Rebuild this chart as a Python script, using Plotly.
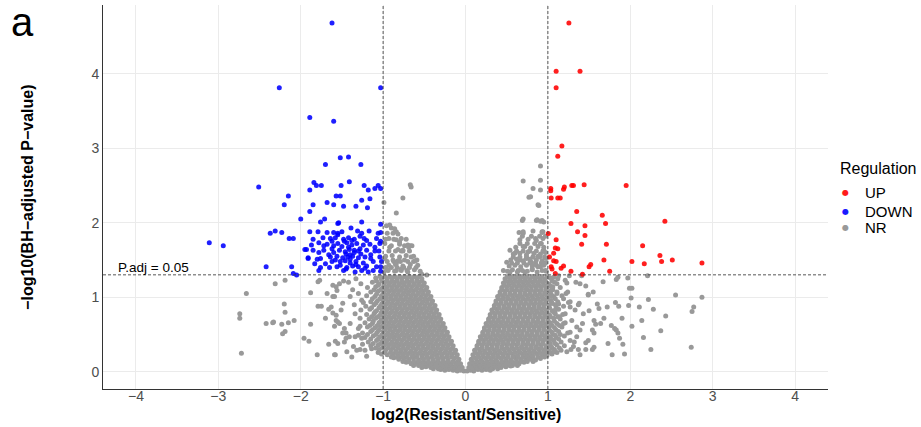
import plotly.graph_objects as go

# ---------------- data (log2 fold change, -log10 adjusted p) ----------------
up_pts = [
    (1.255, 4.68), (1.10, 4.03), (1.39, 4.03), (1.10, 3.81), (1.17, 3.03), (1.12, 2.89),
    (1.035, 2.46), (1.035, 2.43), (1.19, 2.45), (1.20, 2.48), (1.29, 2.50), (1.31, 2.50),
    (1.44, 2.51), (1.95, 2.50), (1.04, 2.33), (1.12, 2.33), (1.15, 2.33), (1.35, 2.15),
    (1.66, 2.10), (1.28, 1.99), (1.45, 1.96), (1.70, 1.99), (2.42, 2.02), (1.005, 1.855),
    (1.36, 1.88), (1.45, 1.83), (1.10, 1.77), (1.09, 1.66), (1.12, 1.65), (1.41, 1.71),
    (1.71, 1.71), (2.15, 1.69), (1.07, 1.59), (1.02, 1.54), (1.07, 1.49), (1.10, 1.48),
    (1.04, 1.41), (1.05, 1.38), (1.16, 1.39), (1.19, 1.42), (1.28, 1.35), (1.42, 1.31),
    (1.09, 1.32), (1.50, 1.41), (1.52, 1.44), (1.68, 1.50), (1.75, 1.35), (2.02, 1.48),
    (2.17, 1.45), (2.36, 1.56), (2.38, 1.48), (2.51, 1.50), (2.87, 1.46),
]

down_pts = [
    (-1.62, 4.68), (-2.26, 3.81), (-1.03, 3.81), (-1.89, 3.41), (-1.60, 3.36), (-1.52, 2.87),
    (-1.42, 2.88), (-1.70, 2.78), (-1.27, 2.78), (-2.51, 2.48), (-1.84, 2.54), (-1.81, 2.50),
    (-1.75, 2.50), (-1.89, 2.44), (-1.51, 2.50), (-1.41, 2.55), (-1.23, 2.50), (-1.18, 2.44),
    (-1.10, 2.46), (-1.06, 2.50), (-1.03, 2.46), (-2.15, 2.36), (-1.57, 2.36), (-1.52, 2.36),
    (-1.26, 2.30), (-1.16, 2.32), (-2.20, 2.24), (-1.89, 2.15), (-1.85, 2.24), (-1.68, 2.27),
    (-1.60, 2.24), (-1.48, 2.22), (-1.33, 2.22), (-1.19, 2.20), (-2.00, 2.05), (-1.76, 2.01),
    (-1.71, 2.05), (-1.55, 1.99), (-1.54, 2.00), (-1.26, 2.01), (-1.03, 1.98), (-2.37, 1.86),
    (-2.31, 1.89), (-2.23, 1.87), (-2.14, 1.79), (-2.09, 1.79), (-3.11, 1.73), (-2.94, 1.69),
    (-2.42, 1.41), (-2.11, 1.41), (-2.09, 1.32), (-2.05, 1.30), (-1.95, 1.64), (-1.91, 1.53),
    (-1.89, 1.88), (-1.79, 1.88), (-1.68, 1.87), (-1.60, 1.87), (-1.55, 1.86), (-1.50, 1.88),
    (-1.39, 1.93), (-1.31, 1.89), (-1.26, 1.86), (-1.17, 1.89), (-1.06, 1.86), (-1.03, 1.87),
    (-1.85, 1.78), (-1.73, 1.80), (-1.64, 1.79), (-1.58, 1.80), (-1.48, 1.78), (-1.42, 1.80),
    (-1.35, 1.78), (-1.23, 1.79), (-1.08, 1.79), (-1.87, 1.70), (-1.78, 1.73), (-1.68, 1.71),
    (-1.60, 1.69), (-1.55, 1.72), (-1.44, 1.73), (-1.38, 1.70), (-1.32, 1.72), (-1.24, 1.70),
    (-1.16, 1.71), (-1.04, 1.72), (-1.93, 1.64), (-1.85, 1.63), (-1.72, 1.63), (-1.62, 1.65),
    (-1.53, 1.63), (-1.46, 1.61), (-1.41, 1.64), (-1.35, 1.63), (-1.28, 1.65), (-1.20, 1.63),
    (-1.10, 1.62), (-1.91, 1.52), (-1.80, 1.51), (-1.76, 1.52), (-1.64, 1.54), (-1.56, 1.55),
    (-1.49, 1.53), (-1.43, 1.54), (-1.37, 1.55), (-1.30, 1.53), (-1.22, 1.54), (-1.15, 1.52),
    (-1.04, 1.54), (-1.83, 1.45), (-1.62, 1.48), (-1.52, 1.48), (-1.46, 1.49), (-1.40, 1.46),
    (-1.33, 1.48), (-1.24, 1.46), (-1.12, 1.48), (-1.02, 1.48), (-1.76, 1.40), (-1.56, 1.41),
    (-1.44, 1.40), (-1.37, 1.42), (-1.30, 1.41), (-1.20, 1.42), (-1.08, 1.41), (-1.03, 1.41),
    (-1.78, 1.36), (-1.48, 1.36), (-1.34, 1.34), (-1.26, 1.36), (-1.18, 1.34),
    (-1.45, 1.58), (-1.40, 1.57), (-1.50, 1.68), (-1.42, 1.67), (-1.35, 1.60), (-1.30, 1.62),
    (-1.47, 1.75), (-1.38, 1.76), (-1.52, 1.43), (-1.40, 1.51), (-1.33, 1.44), (-1.27, 1.58),
    (-1.60, 1.60), (-1.66, 1.57), (-1.70, 1.45), (-1.58, 1.50), (-1.45, 1.38), (-1.22, 1.39),
    (-1.15, 1.57), (-1.10, 1.67), (-1.05, 1.62), (-1.03, 1.75), (-1.03, 1.35), (-1.12, 1.36),
    (-1.65, 1.40), (-1.72, 1.69), (-1.78, 1.60), (-1.20, 1.76), (-1.28, 1.82), (-1.55, 1.84),
    (-1.62, 1.75),
]

# NR, dense left arm of the volcano: (y, [x values]) rows
nr_left_rows = [
    (0.01, [-0.02, -0.10]), (0.02, [-0.06, -0.15, -0.25]), (0.03, [-0.20, -0.30]),
    (0.04, [-0.12, -0.17, -0.22, -0.27, -0.33, -0.39]),
    (0.06, [-0.04, -0.14, -0.19, -0.30, -0.42, -0.53]), (0.07, [-0.09, -0.24, -0.36, -0.48]),
    (0.085, [-0.07, -0.12, -0.17, -0.22, -0.27, -0.33, -0.39, -0.45, -0.51, -0.57, -0.63]),
    (0.11, [-0.06, -0.18, -0.30, -0.42, -0.54, -0.66]), (0.12, [-0.12, -0.24, -0.36, -0.48, -0.60]),
    (0.13, [-0.72]),
    (0.14, [-0.09, -0.15, -0.21, -0.27, -0.33, -0.39, -0.45, -0.51, -0.57, -0.63, -0.69, -0.76]),
    (0.17, [-0.08, -0.33, -0.51, -0.69, -0.81]), (0.18, [-0.14, -0.27, -0.45, -0.63, -0.75]),
    (0.16, [-0.21, -0.39, -0.57]), (0.19, [-0.87]),
    (0.20, [-0.11, -0.17, -0.23, -0.29, -0.35, -0.41, -0.47, -0.53, -0.59, -0.65, -0.71, -0.77, -0.83, -0.90]),
    (0.23, [-0.10, -0.34, -0.52, -0.76, -0.95]), (0.24, [-0.16, -0.28, -0.46, -0.58, -0.70, -0.88, -1.02]),
    (0.22, [-0.22, -0.40, -0.64, -0.82]),
    (0.26, [-0.13, -0.19, -0.25, -0.31, -0.37, -0.43, -0.49, -0.55, -0.61, -0.67, -0.73, -0.79, -0.85, -0.91, -0.98, -1.06]),
    (0.29, [-0.12, -0.36, -0.54, -0.78, -0.97]), (0.30, [-0.18, -0.30, -0.48, -0.60, -0.72, -0.90, -1.05]),
    (0.28, [-0.24, -0.42, -0.66, -0.84]), (0.31, [-1.14]),
    (0.32, [-0.16, -0.22, -0.28, -0.34, -0.40, -0.46, -0.52, -0.58, -0.64, -0.70, -0.76, -0.82, -0.88, -0.94, -1.01, -1.09]),
    (0.35, [-0.15, -0.39, -0.57, -0.81, -0.99, -1.15]), (0.36, [-0.21, -0.33, -0.51, -0.63, -0.75, -0.93, -1.06]),
    (0.34, [-0.27, -0.45, -0.69, -0.87]), (0.37, [-1.25]),
    (0.38, [-0.18, -0.24, -0.30, -0.36, -0.42, -0.48, -0.54, -0.60, -0.66, -0.72, -0.78, -0.84, -0.90, -0.96, -1.03, -1.12]),
    (0.41, [-0.17, -0.41, -0.59, -0.83, -1.01]), (0.42, [-0.23, -0.35, -0.53, -0.65, -0.77, -0.95, -1.08]),
    (0.40, [-0.29, -0.47, -0.71, -0.89, -1.18]),
    (0.44, [-0.21, -0.27, -0.33, -0.39, -0.45, -0.51, -0.57, -0.63, -0.69, -0.75, -0.81, -0.87, -0.93, -0.99, -1.06, -1.15]),
    (0.47, [-0.20, -0.44, -0.62, -0.86, -1.04]), (0.48, [-0.26, -0.38, -0.56, -0.68, -0.80, -0.98, -1.12]),
    (0.46, [-0.32, -0.50, -0.74, -0.92, -1.22]), (0.49, [-1.30]),
    (0.50, [-0.23, -0.29, -0.35, -0.41, -0.47, -0.53, -0.59, -0.65, -0.71, -0.77, -0.83, -0.89, -0.95, -1.01, -1.09, -1.19]),
    (0.53, [-0.22, -0.46, -0.64, -0.88, -1.07]), (0.54, [-0.28, -0.40, -0.58, -0.70, -0.82, -1.00, -1.15]),
    (0.52, [-0.34, -0.52, -0.76, -0.94, -1.25]),
    (0.56, [-0.26, -0.32, -0.38, -0.44, -0.50, -0.56, -0.62, -0.68, -0.74, -0.80, -0.86, -0.92, -0.98, -1.05, -1.13]),
    (0.59, [-0.25, -0.49, -0.67, -0.91, -1.10]), (0.60, [-0.31, -0.43, -0.61, -0.73, -0.85, -1.03, -1.19]),
    (0.58, [-0.37, -0.55, -0.79, -0.97, -1.30]),
    (0.62, [-0.28, -0.34, -0.40, -0.46, -0.52, -0.58, -0.64, -0.70, -0.76, -0.82, -0.88, -0.94, -1.00, -1.07, -1.16]),
    (0.65, [-0.27, -0.51, -0.69, -0.93, -1.13]), (0.66, [-0.33, -0.45, -0.63, -0.75, -0.87, -1.05, -1.22]),
    (0.64, [-0.39, -0.57, -0.81, -0.99]),
    (0.68, [-0.31, -0.37, -0.43, -0.49, -0.55, -0.61, -0.67, -0.73, -0.79, -0.85, -0.91, -0.97, -1.03, -1.12]),
    (0.71, [-0.30, -0.54, -0.72, -0.96, -1.17]), (0.72, [-0.36, -0.48, -0.66, -0.78, -0.90, -1.09, -1.28]),
    (0.70, [-0.42, -0.60, -0.84, -1.02]),
    (0.74, [-0.33, -0.39, -0.45, -0.51, -0.57, -0.63, -0.69, -0.75, -0.81, -0.87, -0.93, -0.99, -1.06, -1.14]),
    (0.77, [-0.32, -0.56, -0.74, -0.98, -1.20]), (0.78, [-0.38, -0.50, -0.68, -0.80, -0.92, -1.11]),
    (0.76, [-0.44, -0.62, -0.86, -1.04]),
    (0.80, [-0.36, -0.42, -0.48, -0.54, -0.60, -0.66, -0.72, -0.78, -0.84, -0.90, -0.96, -1.02, -1.10]),
    (0.83, [-0.35, -0.59, -0.77, -1.01, -1.27]), (0.84, [-0.41, -0.53, -0.71, -0.83, -0.95, -1.16]),
    (0.82, [-0.47, -0.65, -0.89, -1.08]),
    (0.86, [-0.38, -0.44, -0.50, -0.56, -0.62, -0.68, -0.74, -0.80, -0.86, -0.92, -0.98, -1.05, -1.14]),
    (0.89, [-0.37, -0.61, -0.79, -1.03]), (0.90, [-0.43, -0.55, -0.73, -0.85, -0.97, -1.11]),
    (0.88, [-0.49, -0.67, -0.91, -1.21]),
    (0.92, [-0.41, -0.47, -0.53, -0.59, -0.65, -0.71, -0.77, -0.83, -0.89, -0.95, -1.01, -1.09]),
    (0.95, [-0.40, -0.64, -0.82, -1.07]), (0.96, [-0.46, -0.58, -0.76, -0.88, -1.00, -1.26]),
    (0.94, [-0.52, -0.70, -0.94, -1.15]),
    (0.98, [-0.43, -0.49, -0.55, -0.61, -0.67, -0.73, -0.79, -0.85, -0.91, -0.97, -1.04, -1.13]),
    (1.01, [-0.42, -0.66, -0.84, -1.10]), (1.02, [-0.48, -0.60, -0.78, -0.90, -1.02, -1.20]),
    (1.00, [-0.54, -0.72, -0.96]),
    (1.04, [-0.46, -0.52, -0.58, -0.64, -0.70, -0.76, -0.82, -0.88, -0.94, -1.00, -1.08]),
    (1.07, [-0.45, -0.69, -0.87, -1.15]), (1.08, [-0.51, -0.63, -0.81, -0.93, -1.06]),
    (1.06, [-0.57, -0.75, -0.99]),
    (1.10, [-0.48, -0.54, -0.60, -0.66, -0.72, -0.78, -0.84, -0.90, -0.96, -1.03, -1.11]),
    (1.13, [-0.47, -0.71, -0.89, -1.19]), (1.14, [-0.53, -0.65, -0.83, -0.95, -1.09]),
    (1.12, [-0.59, -0.77, -1.01]),
    (1.16, [-0.51, -0.57, -0.63, -0.69, -0.75, -0.81, -0.87, -0.93, -0.99, -1.06]),
    (1.19, [-0.50, -0.74, -0.92]), (1.20, [-0.56, -0.68, -0.86, -0.98, -1.13]),
    (1.18, [-0.62, -0.80, -1.05]),
    (1.22, [-0.53, -0.59, -0.65, -0.71, -0.77, -0.83, -0.89, -0.95, -1.01, -1.08]),
    (1.25, [-0.53, -0.77, -0.95]), (1.26, [-0.59, -0.71, -0.89, -1.09]), (1.24, [-0.65, -0.83, -1.02]),
    (1.28, [-0.56, -0.62, -0.68, -0.74, -0.80, -0.86, -0.92, -0.98, -1.04]),
    (1.40, [-0.60, -0.68, -0.75, -0.83, -0.90, -0.97]),
    (1.48, [-0.63, -0.70, -0.79, -0.87, -0.95]),
    (1.62, [-0.68, -0.76, -0.85, -0.93]),
    (1.78, [-0.72, -0.87, -0.97]),
]

# NR, dense right arm of the volcano: (y, [x values]) rows
nr_right_rows = [
    (0.01, [0.02, 0.10]), (0.02, [0.06, 0.20, 0.30]), (0.03, [0.15, 0.25]),
    (0.04, [0.12, 0.17, 0.22, 0.27, 0.33, 0.39]),
    (0.06, [0.04, 0.19, 0.31, 0.43]), (0.05, [0.09]), (0.07, [0.14, 0.25, 0.37, 0.49]), (0.08, [0.55]),
    (0.085, [0.07, 0.12, 0.17, 0.22, 0.27, 0.33, 0.39, 0.45, 0.51, 0.57, 0.63]),
    (0.11, [0.05, 0.29, 0.41, 0.53, 0.65]), (0.12, [0.11, 0.23, 0.35, 0.47, 0.59]), (0.10, [0.17]),
    (0.13, [0.71]),
    (0.14, [0.08, 0.14, 0.20, 0.26, 0.32, 0.38, 0.44, 0.50, 0.56, 0.62, 0.68, 0.75, 0.82]),
    (0.17, [0.07, 0.31, 0.49, 0.67, 0.79]), (0.18, [0.13, 0.25, 0.43, 0.61, 0.73, 0.91]),
    (0.16, [0.19, 0.37, 0.55, 0.85]),
    (0.20, [0.10, 0.16, 0.22, 0.28, 0.34, 0.40, 0.46, 0.52, 0.58, 0.64, 0.70, 0.76, 0.82, 0.88, 0.96]),
    (0.23, [0.09, 0.33, 0.51, 0.75, 0.93]), (0.24, [0.15, 0.27, 0.45, 0.57, 0.69, 0.87, 1.05]),
    (0.22, [0.21, 0.39, 0.63, 0.81, 0.99]),
    (0.26, [0.12, 0.18, 0.24, 0.30, 0.36, 0.42, 0.48, 0.54, 0.60, 0.66, 0.72, 0.78, 0.84, 0.90, 0.96, 1.03, 1.11]),
    (0.29, [0.11, 0.35, 0.53, 0.77, 0.95, 1.16]), (0.30, [0.17, 0.29, 0.47, 0.59, 0.71, 0.89, 1.08]),
    (0.28, [0.23, 0.41, 0.65, 0.83, 1.01]),
    (0.32, [0.14, 0.20, 0.26, 0.32, 0.38, 0.44, 0.50, 0.56, 0.62, 0.68, 0.74, 0.80, 0.86, 0.92, 0.98, 1.05, 1.14]),
    (0.35, [0.14, 0.38, 0.56, 0.80, 0.98, 1.20]), (0.36, [0.20, 0.32, 0.50, 0.62, 0.74, 0.92, 1.11]),
    (0.34, [0.26, 0.44, 0.68, 0.86, 1.04]),
    (0.38, [0.16, 0.22, 0.28, 0.34, 0.40, 0.46, 0.52, 0.58, 0.64, 0.70, 0.76, 0.82, 0.88, 0.94, 1.01, 1.09]),
    (0.41, [0.16, 0.40, 0.58, 0.82, 1.00]), (0.42, [0.22, 0.34, 0.52, 0.64, 0.76, 0.94, 1.07, 1.27]),
    (0.40, [0.28, 0.46, 0.70, 0.88, 1.16]),
    (0.44, [0.19, 0.25, 0.31, 0.37, 0.43, 0.49, 0.55, 0.61, 0.67, 0.73, 0.79, 0.85, 0.91, 0.97, 1.04, 1.13]),
    (0.47, [0.18, 0.42, 0.60, 0.84, 1.02]), (0.48, [0.24, 0.36, 0.54, 0.66, 0.78, 0.96, 1.20]),
    (0.46, [0.30, 0.48, 0.72, 0.90, 1.10]),
    (0.50, [0.21, 0.27, 0.33, 0.39, 0.45, 0.51, 0.57, 0.63, 0.69, 0.75, 0.81, 0.87, 0.93, 0.99, 1.06, 1.15]),
    (0.53, [0.21, 0.45, 0.63, 0.87, 1.05]), (0.54, [0.27, 0.39, 0.57, 0.69, 0.81, 0.99, 1.13]),
    (0.52, [0.33, 0.51, 0.75, 0.93, 1.24]),
    (0.56, [0.23, 0.29, 0.35, 0.41, 0.47, 0.53, 0.59, 0.65, 0.71, 0.77, 0.83, 0.89, 0.95, 1.02, 1.10]),
    (0.59, [0.23, 0.47, 0.65, 0.89, 1.08]), (0.60, [0.29, 0.41, 0.59, 0.71, 0.83, 1.01, 1.17]),
    (0.58, [0.35, 0.53, 0.77, 0.95]),
    (0.62, [0.26, 0.32, 0.38, 0.44, 0.50, 0.56, 0.62, 0.68, 0.74, 0.80, 0.86, 0.92, 0.98, 1.05, 1.14]),
    (0.65, [0.25, 0.49, 0.67, 0.91, 1.11]), (0.66, [0.31, 0.43, 0.61, 0.73, 0.85, 1.03, 1.21]),
    (0.64, [0.37, 0.55, 0.79, 0.97]),
    (0.68, [0.28, 0.34, 0.40, 0.46, 0.52, 0.58, 0.64, 0.70, 0.76, 0.82, 0.88, 0.94, 1.00, 1.08]),
    (0.71, [0.28, 0.52, 0.70, 0.94, 1.15]), (0.72, [0.34, 0.46, 0.64, 0.76, 0.88, 1.07]),
    (0.70, [0.40, 0.58, 0.82, 1.00]),
    (0.74, [0.30, 0.36, 0.42, 0.48, 0.54, 0.60, 0.66, 0.72, 0.78, 0.84, 0.90, 0.96, 1.03, 1.12]),
    (0.77, [0.30, 0.54, 0.72, 0.96, 1.18]), (0.78, [0.36, 0.48, 0.66, 0.78, 0.90, 1.09]),
    (0.76, [0.42, 0.60, 0.84, 1.02]),
    (0.80, [0.33, 0.39, 0.45, 0.51, 0.57, 0.63, 0.69, 0.75, 0.81, 0.87, 0.93, 0.99, 1.07]),
    (0.83, [0.32, 0.56, 0.74, 0.98]), (0.84, [0.38, 0.50, 0.68, 0.80, 0.92, 1.13]),
    (0.82, [0.44, 0.62, 0.86, 1.05]),
    (0.86, [0.35, 0.41, 0.47, 0.53, 0.59, 0.65, 0.71, 0.77, 0.83, 0.89, 0.95, 1.02, 1.10]),
    (0.89, [0.35, 0.59, 0.77, 1.01]), (0.90, [0.41, 0.53, 0.71, 0.83, 0.95, 1.09]),
    (0.88, [0.47, 0.65, 0.89, 1.19]),
    (0.92, [0.37, 0.43, 0.49, 0.55, 0.61, 0.67, 0.73, 0.79, 0.85, 0.91, 0.97, 1.05]),
    (0.95, [0.37, 0.61, 0.79, 1.04]), (0.96, [0.43, 0.55, 0.73, 0.85, 0.97]),
    (0.94, [0.49, 0.67, 0.91, 1.12]),
    (0.98, [0.40, 0.46, 0.52, 0.58, 0.64, 0.70, 0.76, 0.82, 0.88, 0.94, 1.00, 1.09]),
    (1.01, [0.39, 0.63, 0.81, 1.07]), (1.02, [0.45, 0.57, 0.75, 0.87, 0.99, 1.17]),
    (1.00, [0.51, 0.69, 0.93]),
    (1.04, [0.42, 0.48, 0.54, 0.60, 0.66, 0.72, 0.78, 0.84, 0.90, 0.96, 1.04]),
    (1.07, [0.42, 0.66, 0.84, 1.11]), (1.08, [0.48, 0.60, 0.78, 0.90, 1.03]),
    (1.06, [0.54, 0.72, 0.96]),
    (1.10, [0.44, 0.50, 0.56, 0.62, 0.68, 0.74, 0.80, 0.86, 0.92, 0.98, 1.06]),
    (1.13, [0.44, 0.68, 0.86, 1.15]), (1.14, [0.50, 0.62, 0.80, 0.92, 1.06]),
    (1.12, [0.56, 0.74, 0.98]),
    (1.16, [0.47, 0.53, 0.59, 0.65, 0.71, 0.77, 0.83, 0.89, 0.95, 1.02]),
    (1.19, [0.46, 0.70, 0.88]), (1.20, [0.52, 0.64, 0.82, 0.94, 1.08]), (1.18, [0.58, 0.76, 1.00]),
    (1.22, [0.49, 0.55, 0.61, 0.67, 0.73, 0.79, 0.85, 0.91, 0.97, 1.05]),
    (1.25, [0.48, 0.72, 0.90, 1.12]), (1.26, [0.54, 0.66, 0.84, 1.03]), (1.24, [0.60, 0.78, 0.96]),
    (1.28, [0.51, 0.57, 0.63, 0.69, 0.75, 0.81, 0.87, 0.93, 0.99]),
    (1.46, [0.56, 0.63, 0.71, 0.78, 0.85, 0.92, 0.97]),
    (1.54, [0.58, 0.66, 0.74, 0.82, 0.90, 0.96]),
    (1.62, [0.62, 0.70, 0.78, 0.86, 0.94]),
    (1.72, [0.66, 0.75, 0.84, 0.92]),
    (1.82, [0.69, 0.80, 0.90, 0.97]),
]

# NR: significant p but small fold change (between the vertical cut-offs)
nr_above = [
    (-0.67, 2.51), (-0.66, 2.48), (-0.76, 2.33), (-0.84, 2.13), (-0.99, 2.27), (-0.96, 1.96),
    (-0.90, 1.93), (-0.95, 1.86), (-0.88, 1.86), (-0.84, 1.88), (-0.93, 1.79), (-0.84, 1.77),
    (-0.80, 1.74), (-0.74, 1.69), (-0.67, 1.69), (-0.65, 1.69), (-0.92, 1.67), (-0.82, 1.64),
    (-0.78, 1.62), (-0.74, 1.50), (-0.66, 1.54), (-0.59, 1.50), (-0.98, 1.52), (-0.88, 1.50),
    (-0.84, 1.45), (-0.94, 1.36), (-0.84, 1.36), (-0.78, 1.38), (-0.71, 1.36), (-0.53, 1.31),
    (-0.47, 1.30), (-0.92, 1.97), (-0.86, 1.92), (-0.82, 1.85), (-0.78, 1.79), (-0.69, 1.67),
    (-0.61, 1.49), (-0.76, 1.63), (-0.82, 1.49), (-0.55, 1.35), (-0.62, 1.37), (-0.70, 1.34),
    (-0.78, 1.36), (-0.86, 1.35), (-0.94, 1.37), (-0.99, 1.34), (-0.58, 1.43), (-0.67, 1.44),
    (-0.76, 1.42), (-0.85, 1.44), (-0.93, 1.43), (-0.63, 1.55), (-0.72, 1.56), (-0.80, 1.54),
    (-0.89, 1.56), (-0.97, 1.55), (-0.70, 1.70), (-0.80, 1.71), (-0.90, 1.69), (-0.98, 1.72),
    (0.70, 2.56), (0.91, 2.57), (0.91, 2.44), (0.82, 2.46), (0.79, 2.35), (0.77, 2.34),
    (0.88, 2.24), (0.69, 2.03), (0.70, 2.05), (0.86, 2.03), (0.91, 2.02), (0.95, 2.01),
    (0.65, 1.87), (0.70, 1.86), (0.93, 1.88), (0.85, 1.79), (0.91, 1.72), (0.95, 1.63),
    (0.54, 1.63), (0.60, 1.59), (0.50, 1.47), (0.66, 1.50), (0.74, 1.52), (0.82, 1.54),
    (0.88, 1.55), (0.46, 1.36), (0.54, 1.34), (0.64, 1.36), (0.72, 1.34), (0.81, 1.38),
    (0.91, 1.41), (0.97, 1.36), (0.72, 1.68), (0.76, 1.61), (0.80, 1.47), (0.86, 1.43),
    (0.91, 2.76), (0.89, 2.23), (0.87, 2.04), (0.93, 2.03), (0.94, 1.88),
    (0.51, 1.35), (0.57, 1.37), (0.63, 1.34), (0.69, 1.36), (0.75, 1.35), (0.81, 1.37),
    (0.87, 1.34), (0.93, 1.36), (0.98, 1.35), (0.53, 1.42), (0.60, 1.43), (0.67, 1.41),
    (0.74, 1.43), (0.81, 1.42), (0.88, 1.41), (0.95, 1.43), (0.55, 1.50), (0.62, 1.51),
    (0.70, 1.49), (0.78, 1.51), (0.86, 1.50), (0.93, 1.49), (0.98, 1.52), (0.58, 1.58),
    (0.66, 1.59), (0.74, 1.57), (0.83, 1.59), (0.91, 1.58), (0.97, 1.60), (0.61, 1.67),
    (0.70, 1.68), (0.79, 1.66), (0.88, 1.68), (0.95, 1.67), (0.66, 1.77), (0.76, 1.78),
    (0.86, 1.76), (0.94, 1.79), (0.70, 1.88), (0.82, 1.89), (0.93, 1.87),
]

# NR: scattered genes with larger fold change but non-significant p
nr_outer = [
    (-2.31, 1.18), (-2.19, 1.23), (-2.66, 1.05), (-2.74, 0.78), (-2.74, 0.72), (-2.42, 0.65),
    (-2.34, 0.66), (-2.33, 0.67), (-2.23, 0.64), (-2.15, 0.66), (-2.08, 0.69), (-2.20, 0.91),
    (-2.19, 0.80), (-2.22, 0.51), (-2.19, 0.54), (-2.72, 0.25), (-1.96, 0.45), (-1.90, 0.41),
    (-1.88, 1.06), (-1.88, 0.64), (-1.79, 1.21), (-1.77, 1.23), (-1.79, 0.88), (-1.75, 0.88),
    (-1.80, 0.23), (-1.70, 0.72), (-1.68, 1.05), (-1.61, 1.01), (-1.57, 1.14), (-1.56, 1.09),
    (-1.53, 1.18), (-1.48, 1.22), (-1.66, 0.37), (-1.58, 0.41), (-1.58, 0.23), (-1.66, 0.84),
    (-1.61, 0.79), (-1.57, 0.69), (-1.53, 0.65), (-1.45, 0.52), (-1.41, 0.47), (-1.47, 0.58),
    (-1.36, 0.34), (-1.28, 0.30), (-1.20, 0.21), (-1.47, 0.40), (-1.34, 0.47),
    (-1.61, 1.16), (-1.59, 1.01), (-1.63, 0.87), (-1.57, 0.76), (-1.51, 0.83), (-1.55, 0.67),
    (-1.59, 0.61), (-1.49, 0.52), (-1.45, 0.45), (-1.55, 0.38), (-1.59, 0.23), (-1.44, 0.27),
    (-1.38, 0.20), (-1.32, 0.29), (-1.49, 0.92), (-1.40, 1.01), (-1.34, 0.78), (-1.28, 0.61),
    (-1.26, 0.45), (-1.22, 0.29), (-1.37, 1.10), (-1.42, 1.20), (-1.35, 0.90), (-1.40, 0.65),
    (-1.30, 1.05), (-1.27, 1.18), (-1.33, 1.25), (-1.24, 0.93),
    (1.13, 1.29), (1.26, 1.29), (1.41, 1.29), (1.34, 1.20), (1.21, 1.23), (1.23, 1.19),
    (1.46, 1.15), (1.55, 1.07), (1.49, 1.03), (1.67, 1.21), (1.83, 1.24), (1.85, 1.27),
    (1.97, 1.26), (1.99, 1.12), (2.02, 1.12), (2.01, 0.99), (2.21, 1.29), (2.22, 0.97),
    (2.55, 1.03), (2.87, 1.00), (1.86, 0.88), (1.98, 0.89), (2.11, 0.87), (2.28, 0.84),
    (2.43, 0.75), (2.75, 0.81), (2.77, 0.87), (1.62, 0.85), (1.50, 0.82), (1.37, 0.90),
    (1.38, 0.92), (1.25, 0.93), (1.19, 0.98), (1.22, 1.05), (1.24, 1.07), (1.90, 0.72),
    (2.02, 0.61), (2.14, 0.69), (2.37, 0.55), (2.16, 0.46), (2.25, 0.30), (2.74, 0.33),
    (1.77, 0.62), (1.81, 0.58), (1.85, 0.52), (1.83, 0.56), (1.87, 0.45), (1.73, 0.38),
    (1.91, 0.37), (1.78, 0.23), (1.93, 0.24), (1.64, 0.65), (1.58, 0.64), (1.54, 0.56),
    (1.56, 0.52), (1.49, 0.42), (1.46, 0.39), (1.54, 0.30), (1.56, 0.33), (1.46, 0.30),
    (1.39, 0.23), (1.37, 0.30), (1.31, 0.34), (1.23, 0.27), (1.28, 0.30), (1.32, 0.40),
    (1.35, 0.47), (1.39, 0.56), (1.42, 0.65), (1.29, 0.69), (1.27, 0.53), (1.35, 0.60),
    (1.07, 0.27), (0.99, 0.30), (0.95, 0.25), (1.03, 0.38), (1.09, 0.49), (1.19, 0.65),
    (1.14, 0.74), (1.09, 0.83), (1.05, 0.92), (1.13, 0.91), (1.04, 1.01), (1.11, 1.05),
    (1.04, 1.14), (1.11, 1.18), (1.07, 1.27), (1.27, 0.87), (1.33, 0.83), (1.43, 0.78),
    (1.21, 0.78), (1.27, 0.94), (1.39, 1.18), (1.49, 1.04), (1.60, 0.91), (1.56, 0.69),
    (1.68, 0.72), (1.72, 0.87), (1.82, 0.93),
]

legend_labels = ["UP", "DOWN", "NR"]
legend_colors = ["#ff1a1a", "#1a1aff", "#999999"]

x_ticks = [-4, -3, -2, -1, 0, 1, 2, 3, 4]
x_tick_text = ["\u22124", "\u22123", "\u22122", "\u22121", "0", "1", "2", "3", "4"]
y_ticks = [0, 1, 2, 3, 4]
y_tick_text = ["0", "1", "2", "3", "4"]
fc_cut = 1.0
padj_cut = 1.30103  # -log10(0.05)

# -------- assemble the NR table from the row lists --------
nr_pts = [(x, y) for y, xs in nr_left_rows for x in xs]
nr_pts += [(x, y) for y, xs in nr_right_rows for x in xs]
nr_pts += nr_above + nr_outer

FONT = "Liberation Sans, Arial, Helvetica, sans-serif"

fig = go.Figure()
series = [
    ("NR", nr_pts, "#999999"),
    ("DOWN", down_pts, "rgba(0,0,255,0.88)"),
    ("UP", up_pts, "rgba(255,0,0,0.88)"),
]
for name, pts, col in series:
    fig.add_trace(go.Scatter(
        x=[p[0] for p in pts], y=[p[1] for p in pts],
        mode="markers", name=name, showlegend=False,
        marker=dict(size=5, color=col, line=dict(width=0)),
    ))

dash_line = dict(color="#444444", width=0.9, dash="3px,2px")
fig.add_shape(type="line", xref="x", yref="paper", x0=-fc_cut, x1=-fc_cut, y0=0, y1=1,
              line=dash_line, layer="above")
fig.add_shape(type="line", xref="x", yref="paper", x0=fc_cut, x1=fc_cut, y0=0, y1=1,
              line=dash_line, layer="above")
fig.add_shape(type="line", xref="paper", yref="y", x0=0, x1=1, y0=padj_cut, y1=padj_cut,
              line=dash_line, layer="above")

annotations = [
    dict(text="P.adj = 0.05", x=-4.24, y=1.40, xref="x", yref="y", xanchor="left",
         yanchor="middle", showarrow=False, font=dict(size=13.5, color="black", family=FONT)),
    dict(text="<b>log2(Resistant/Sensitive)</b>", x=0.5, y=-0.066, xref="paper", yref="paper",
         xanchor="center", yanchor="middle", showarrow=False,
         font=dict(size=16, color="black", family=FONT)),
    dict(text="<b>\u2212log10(BH\u2212adjusted P\u2212value)</b>", x=-0.105, y=0.5,
         xref="paper", yref="paper", xanchor="center", yanchor="middle", textangle=-90,
         showarrow=False, font=dict(size=16, color="black", family=FONT)),
    dict(text="a", x=-0.1117, y=0.956, xref="paper", yref="paper", xanchor="center",
         yanchor="middle", showarrow=False, font=dict(size=40, color="black", family=FONT)),
    dict(text="Regulation", x=1.0138, y=0.5755, xref="paper", yref="paper", xanchor="left",
         yanchor="middle", showarrow=False, font=dict(size=16, color="black", family=FONT)),
]
legend_rows_y = [0.5112, 0.4635, 0.4211]
for lab, col, yy in zip(legend_labels, legend_colors, legend_rows_y):
    annotations.append(dict(text="\u25cf", x=1.0248, y=yy, xref="paper", yref="paper",
                            xanchor="center", yanchor="middle", showarrow=False,
                            font=dict(size=8, color=col, family="DejaVu Sans")))
    annotations.append(dict(text=lab, x=1.0483, y=yy, xref="paper", yref="paper",
                            xanchor="left", yanchor="middle", showarrow=False,
                            font=dict(size=15, color="black", family=FONT)))

fig.update_layout(
    width=921, height=427,
    margin=dict(l=103, r=93, t=5, b=38, autoexpand=False),
    paper_bgcolor="white", plot_bgcolor="white",
    font=dict(family=FONT, color="#4d4d4d", size=14),
    showlegend=False,
    annotations=annotations,
    xaxis=dict(range=[-4.4, 4.4], tickvals=x_ticks, ticktext=x_tick_text,
               showgrid=True, gridcolor="#EBEBEB", gridwidth=0.8, zeroline=False,
               showline=True, linecolor="#333333", linewidth=1, ticks="",
               ticklabelstandoff=-6,
               tickfont=dict(size=14, color="#4d4d4d", family=FONT)),
    yaxis=dict(range=[-0.23, 4.92], tickvals=y_ticks, ticktext=y_tick_text,
               showgrid=True, gridcolor="#EBEBEB", gridwidth=0.8, zeroline=False,
               showline=True, linecolor="#333333", linewidth=1, ticks="",
               tickfont=dict(size=14, color="#4d4d4d", family=FONT)),
)

fig.write_html("out.html")
